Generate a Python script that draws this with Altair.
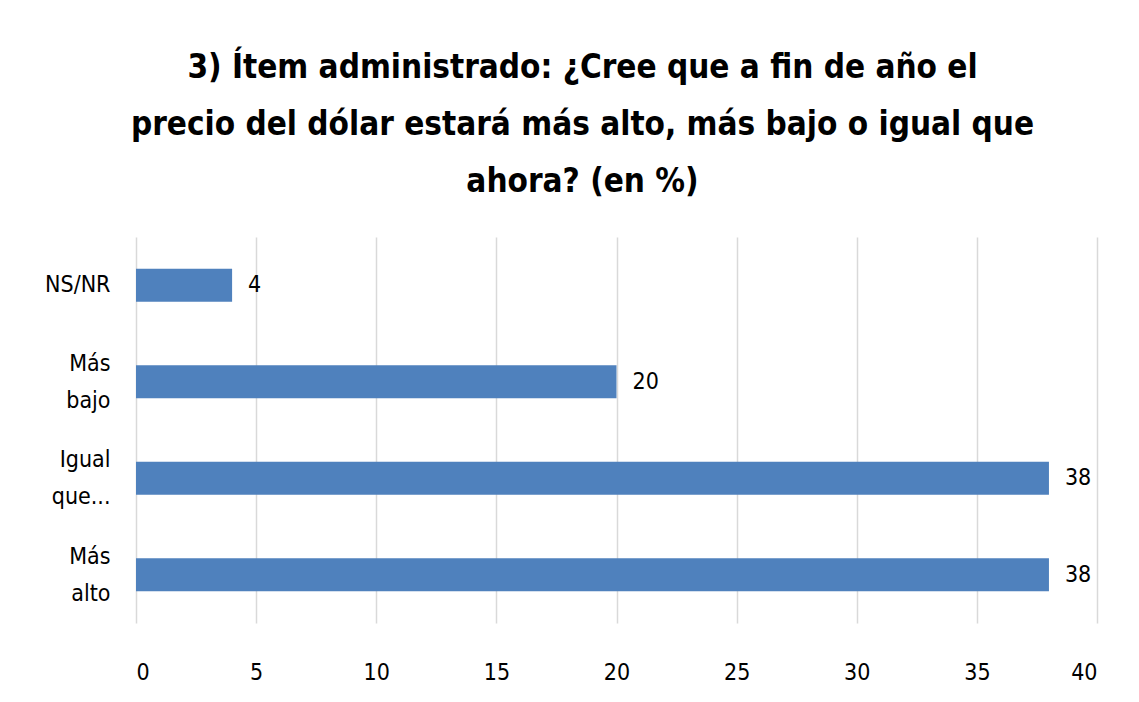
import altair as alt
import pandas as pd

categories = ["NS/NR", "Más\nbajo", "Igual\nque...", "Más\nalto"]
values = [4, 20, 38, 38]
x_ticks = [0, 5, 10, 15, 20, 25, 30, 35, 40]
title_lines = [
    "3) Ítem administrado: ¿Cree que a fin de año el",
    "precio del dólar estará más alto, más bajo o igual que",
    "ahora? (en %)",
]

df = pd.DataFrame({"cat": categories, "val": values})

FONT = "Liberation Sans Narrow, DejaVu Sans Condensed, sans-serif"

base = alt.Chart(df).encode(
    y=alt.Y(
        "cat:N",
        sort=categories,
        title=None,
        scale=alt.Scale(paddingInner=0.66, paddingOuter=0.33),
        axis=alt.Axis(
            labelExpr="split(datum.label, '\\n')",
            labelFont=FONT,
            labelFontSize=23,
            labelColor="#000000",
            labelPadding=26,
            labelLineHeight=37,
            labelOffset={
                "condition": {"test": "indexof(datum.label, '\\n') >= 0", "value": -18},
                "value": 0,
            },
            ticks=False,
            domain=False,
            grid=False,
        ),
    ),
    x=alt.X(
        "val:Q",
        title=None,
        scale=alt.Scale(domain=[0, 40], nice=False),
        axis=alt.Axis(
            values=x_ticks,
            labelFont=FONT,
            labelFontSize=23,
            labelColor="#000000",
            labelPadding=38,
            ticks=False,
            domain=False,
            grid=True,
            gridColor="#d9d9d9",
            gridWidth=1.5,
        ),
    ),
)

bars = base.mark_bar(color="#4F81BD")
labels = base.mark_text(
    align="left", baseline="middle", dx=16, font=FONT, fontSize=23, color="#000000"
).encode(text=alt.Text("val:Q"))

chart = (
    alt.layer(bars, labels)
    .properties(
        width=961,
        height=386,
        view=alt.ViewBackground(strokeOpacity=0, strokeWidth=0),
        autosize=alt.AutoSizeParams(type="none"),
        padding={"left": 128, "top": 229, "right": 34, "bottom": 71},
        title=alt.TitleParams(
            text=title_lines,
            font=FONT,
            fontSize=33,
            fontWeight="bold",
            color="#000000",
            anchor="middle",
            dx=-34,
            offset=38,
            lineHeight=57,
        ),
    )
    .configure_view(strokeOpacity=0, strokeWidth=0)
    .configure(background="white")
)

chart.save("out.html", embed_options={"renderer": "svg", "actions": False})
